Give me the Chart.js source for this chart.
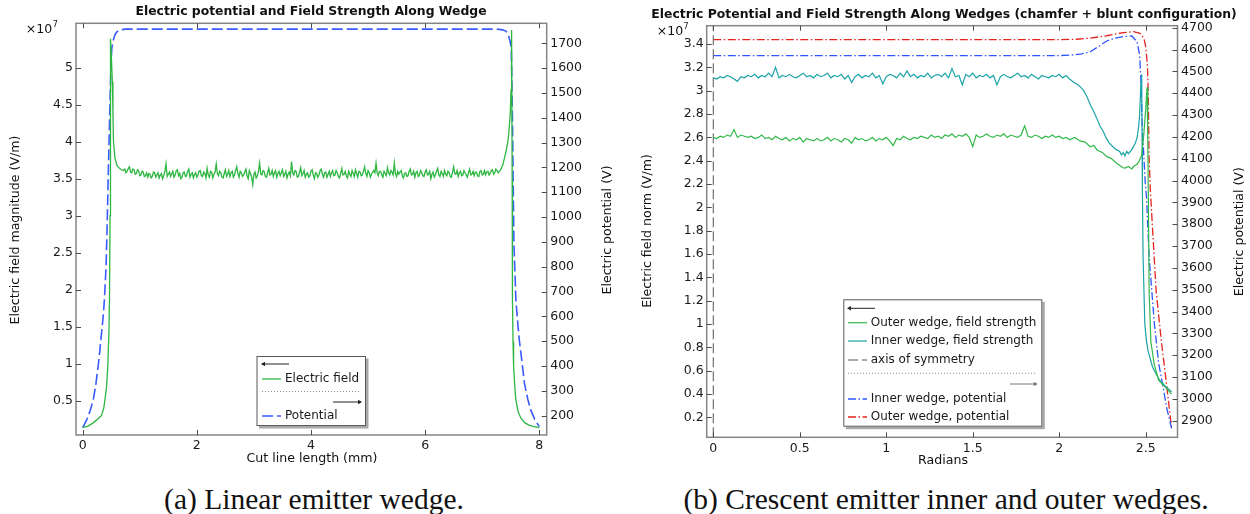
<!DOCTYPE html>
<html>
<head>
<meta charset="utf-8">
<script src="https://cdn.jsdelivr.net/npm/chart.js@4.4.0/dist/chart.umd.min.js"></script>
<style>
html,body{margin:0;padding:0;background:#fff;}
body{width:1250px;height:514px;position:relative;overflow:hidden;}
.panel{position:absolute;top:0;height:475px;}
#pa{left:0;width:620px;}
#pb{left:620px;width:630px;}
.cap{position:absolute;top:484px;line-height:30px;font-family:"Liberation Serif",serif;font-size:29.5px;color:#111;white-space:nowrap;transform:translateX(-50%);}
</style>
</head>
<body>
<div class="panel" id="pa"><canvas id="ca" width="620" height="475"></canvas></div>
<div class="panel" id="pb"><canvas id="cb" width="630" height="475"></canvas></div>
<div class="cap" style="left:314px">(a) Linear emitter wedge.</div>
<div class="cap" style="left:946px">(b) Crescent emitter inner and outer wedges.</div>
<script>
// ===== (a) linear emitter wedge: data =====
const aXTicks = [0,2,4,6,8];
const aFieldTicks = [0.5,1,1.5,2,2.5,3,3.5,4,4.5,5];          // x 10^7 V/m
const aPotTicks = [200,300,400,500,600,700,800,900,1000,1100,1200,1300,1400,1500,1600,1700];

// field magnitude, x 10^7 V/m
const aFieldRiseX = [0,0.1,0.185,0.26,0.33,0.37,0.39,0.42,0.44,0.46,0.47,0.48,0.485,0.49,0.505,0.52,0.53,0.54,0.565,0.6,0.62,0.66,0.71];
const aFieldRiseY = [0.135,0.16,0.2,0.25,0.3,0.4,0.51,0.7,0.97,1.43,1.88,3.0,4.2,5.39,5.1,4.81,4.4,4.0,3.78,3.68,3.66,3.63,3.61];
// noisy plateau, sampled every 0.02 mm from 0.74 mm
const aFieldPlateauX0 = 0.74, aFieldPlateauStep = 0.02;
const aFieldPlateau = [
  3.63,3.58,3.60,3.64,3.66,3.59,3.58,3.63,3.62,3.56,3.57,3.62,3.61,3.54,3.55,3.60,3.59,3.53,3.54,3.58,
  3.52,3.57,3.56,3.51,3.53,3.59,3.58,3.52,3.55,3.58,3.51,3.55,3.57,3.50,3.54,3.60,3.70,3.53,3.56,3.59,
  3.53,3.57,3.60,3.52,3.55,3.61,3.62,3.54,3.57,3.50,3.52,3.58,3.59,3.53,3.54,3.60,3.63,3.52,3.56,3.58,
  3.51,3.56,3.58,3.52,3.55,3.60,3.61,3.54,3.53,3.59,3.57,3.51,3.64,3.55,3.52,3.60,3.59,3.51,3.56,3.59,
  3.70,3.57,3.54,3.60,3.58,3.52,3.51,3.57,3.62,3.53,3.56,3.61,3.53,3.58,3.60,3.52,3.55,3.61,3.66,3.57,
  3.52,3.60,3.58,3.53,3.55,3.59,3.63,3.54,3.50,3.61,3.57,3.52,3.42,3.56,3.59,3.51,3.54,3.60,3.71,3.56,
  3.55,3.61,3.60,3.53,3.52,3.58,3.64,3.55,3.56,3.61,3.53,3.58,3.61,3.52,3.57,3.60,3.54,3.58,3.62,3.53,
  3.56,3.60,3.51,3.56,3.59,3.54,3.73,3.58,3.55,3.61,3.60,3.52,3.53,3.59,3.65,3.54,3.57,3.61,3.52,3.56,
  3.58,3.52,3.54,3.60,3.62,3.55,3.50,3.58,3.57,3.52,3.55,3.61,3.63,3.56,3.52,3.58,3.59,3.52,3.56,3.60,
  3.53,3.58,3.61,3.54,3.55,3.61,3.58,3.53,3.51,3.57,3.64,3.55,3.56,3.60,3.54,3.51,3.60,3.56,3.53,3.61,
  3.57,3.53,3.62,3.57,3.52,3.60,3.59,3.54,3.55,3.60,3.66,3.57,3.53,3.61,3.58,3.52,3.56,3.59,3.61,3.58,
  3.71,3.58,3.54,3.60,3.60,3.55,3.52,3.60,3.57,3.54,3.65,3.58,3.55,3.61,3.59,3.55,3.71,3.57,3.53,3.60,
  3.56,3.59,3.61,3.54,3.51,3.57,3.58,3.53,3.54,3.60,3.63,3.55,3.56,3.60,3.52,3.58,3.60,3.53,3.55,3.61,
  3.58,3.54,3.53,3.59,3.62,3.55,3.56,3.60,3.50,3.56,3.59,3.52,3.55,3.60,3.64,3.55,3.53,3.60,3.57,3.53,
  3.61,3.56,3.54,3.60,3.58,3.53,3.52,3.59,3.66,3.57,3.56,3.61,3.53,3.58,3.60,3.54,3.55,3.61,3.58,3.55,
  3.52,3.58,3.63,3.55,3.56,3.60,3.54,3.59,3.59,3.54,3.53,3.60,3.61,3.55,3.56,3.61,3.55,3.59,3.60,3.55,
  3.57,3.61,3.62,3.56,3.58,3.63,3.61,3.58,3.60
];
const aFieldFallX = [7.32,7.36,7.39,7.42,7.45,7.47,7.49,7.505,7.51,7.52,7.525,7.53,7.54,7.55,7.57,7.59,7.63,7.68,7.75,7.82,7.9,8.0];
const aFieldFallY = [3.62,3.68,3.78,3.88,4.0,4.15,4.36,4.7,5.04,5.51,3.5,1.88,1.3,0.97,0.7,0.51,0.35,0.26,0.2,0.17,0.15,0.135];

// potential, V
const aPotX = [0,0.07,0.13,0.185,0.23,0.27,0.3,0.33,0.36,0.38,0.41,0.43,0.45,0.465,0.48,0.495,0.51,0.54,0.565,0.6,0.65,0.75,
               7.25,7.36,7.42,7.45,7.49,7.51,7.53,7.555,7.59,7.62,7.65,7.7,7.74,7.8,7.85,7.92,8.0];
const aPotY = [152,183,220,263,325,397,460,532,600,666,800,980,1186,1330,1479,1600,1680,1715,1734,1746,1754,1757,
               1757,1754,1748,1740,1707,1680,1400,900,666,580,505,410,330,265,223,185,156];

// ===== (b) crescent emitter: data =====
const bXTicks = [0,0.5,1,1.5,2,2.5];
const bFieldTicks = [0.2,0.4,0.6,0.8,1,1.2,1.4,1.6,1.8,2,2.2,2.4,2.6,2.8,3,3.2,3.4];  // x 10^7 V/m
const bPotTicks = [2900,3000,3100,3200,3300,3400,3500,3600,3700,3800,3900,4000,4100,4200,4300,4400,4500,4600,4700];

// field strength plateaus, sampled every 0.02 rad from 0
const bPlateauX0 = 0, bPlateauStep = 0.02;
const bOuterField = [
  2.60,2.59,2.61,2.60,2.62,2.61,2.667,2.60,2.62,2.61,
  2.60,2.61,2.59,2.60,2.62,2.59,2.60,2.58,2.61,2.59,
  2.58,2.60,2.57,2.59,2.58,2.60,2.56,2.59,2.58,2.57,
  2.59,2.57,2.58,2.60,2.57,2.59,2.58,2.56,2.59,2.58,
  2.55,2.60,2.58,2.59,2.57,2.58,2.60,2.57,2.59,2.58,
  2.60,2.57,2.53,2.59,2.58,2.61,2.59,2.58,2.60,2.59,
  2.61,2.60,2.59,2.62,2.60,2.61,2.59,2.62,2.61,2.63,
  2.60,2.62,2.61,2.63,2.60,2.52,2.62,2.60,2.61,2.63,
  2.61,2.60,2.62,2.61,2.63,2.60,2.62,2.61,2.60,2.62,
  2.70,2.61,2.60,2.62,2.61,2.59,2.61,2.60,2.62,2.60,
  2.61,2.59,2.60,2.58
];
const bOuterTailX = [2.09,2.12,2.15,2.18,2.2,2.22,2.25,2.275,2.3,2.33,2.35,2.37,2.38,2.4,2.42,2.43,2.45,2.46,2.477,2.49,2.5,2.508,2.512,2.516,2.52,2.53,2.55,2.575,2.62,2.65];
const bOuterTailY = [2.60,2.57,2.56,2.52,2.53,2.49,2.47,2.435,2.42,2.38,2.36,2.34,2.337,2.35,2.33,2.35,2.37,2.39,2.447,2.64,2.84,3.03,2.6,2.0,1.28,0.85,0.65,0.52,0.45,0.40];

const bInnerField = [
  3.11,3.10,3.12,3.11,3.13,3.12,3.10,3.08,3.12,3.11,
  3.13,3.12,3.14,3.11,3.13,3.12,3.15,3.12,3.20,3.11,
  3.13,3.12,3.14,3.12,3.11,3.13,3.15,3.12,3.13,3.11,
  3.14,3.12,3.13,3.15,3.11,3.13,3.12,3.14,3.10,3.13,
  3.07,3.12,3.14,3.11,3.13,3.12,3.15,3.11,3.13,3.06,
  3.12,3.14,3.13,3.11,3.15,3.12,3.17,3.12,3.14,3.11,
  3.13,3.12,3.15,3.11,3.13,3.14,3.12,3.15,3.11,3.19,
  3.12,3.13,3.05,3.14,3.12,3.15,3.11,3.13,3.12,3.14,
  3.11,3.13,3.05,3.12,3.14,3.12,3.11,3.13,3.15,3.12,
  3.13,3.11,3.14,3.12,3.10,3.13,3.12,3.11,3.13,3.12,
  3.14,3.11,3.13,3.10
];
const bInnerTailX = [2.08,2.11,2.14,2.16,2.18,2.2,2.217,2.235,2.255,2.27,2.29,2.31,2.33,2.35,2.36,2.37,2.38,2.39,2.40,2.42,2.44,2.45,2.46,2.465,2.473,2.477,2.479,2.481,2.485,2.495,2.505,2.514,2.54,2.58,2.62,2.65];
const bInnerTailY = [3.077,3.05,3.005,2.95,2.88,2.82,2.765,2.70,2.65,2.60,2.55,2.52,2.495,2.48,2.45,2.47,2.44,2.48,2.46,2.495,2.55,2.595,2.70,2.795,3.08,3.14,2.6,2.15,1.58,1.0,0.85,0.77,0.63,0.52,0.46,0.42];

const bSymmetryX = 0;

// potentials, V
const bInnerPotX = [0,2.0,2.08,2.13,2.18,2.23,2.275,2.32,2.37,2.42,2.45,2.465,2.473,2.478,2.487,2.497,2.505,2.52,2.55,2.575,2.604,2.62,2.65];
const bInnerPotY = [4572,4572,4575,4580,4590,4615,4639,4652,4659,4662,4636,4575,4453,4300,4147,3995,3920,3651,3346,3163,3040,2964,2865];
const bOuterPotX = [0,2.0,2.1,2.18,2.275,2.37,2.43,2.467,2.49,2.5,2.51,2.515,2.52,2.527,2.56,2.59,2.62,2.65];
const bOuterPotY = [4645,4645,4647,4652,4663,4677,4682,4674,4651,4613,4529,4400,4100,3957,3498,3269,3071,2865];

// ===== helpers =====
const pts = (xs, ys) => xs.map((x, i) => ({x: x, y: ys[i]}));
const sampled = (x0, step, ys) => ys.map((y, i) => ({x: +(x0 + i * step).toFixed(4), y: y}));

Chart.defaults.font.family = '"DejaVu Sans", sans-serif';
Chart.defaults.font.size = 12.5;
Chart.defaults.color = '#1a1a1a';

function arrow(ctx, x1, x2, y, color){
  ctx.strokeStyle = color; ctx.fillStyle = color; ctx.lineWidth = 1; ctx.setLineDash([]);
  ctx.beginPath(); ctx.moveTo(x1, y); ctx.lineTo(x2, y); ctx.stroke();
  const d = x2 > x1 ? 1 : -1;
  ctx.beginPath(); ctx.moveTo(x2 + d, y); ctx.lineTo(x2 - 3 * d, y - 2.2); ctx.lineTo(x2 - 3 * d, y + 2.2); ctx.closePath(); ctx.fill();
}

// === рамка, внутренние засечки, подписи, легенда ===
const decor = {
  id: 'decor',
  afterDatasetsDraw(chart, args, o){
    const ctx = chart.ctx, a = chart.chartArea;
    ctx.save();
    // legend box
    const L = o.legend;
    ctx.fillStyle = '#a8a8a8'; ctx.fillRect(L.x + 2.5, L.y + 2.5, L.w, L.h);
    ctx.fillStyle = '#fff'; ctx.fillRect(L.x, L.y, L.w, L.h);
    ctx.strokeStyle = '#5a5a5a'; ctx.lineWidth = 1; ctx.strokeRect(L.x + 0.5, L.y + 0.5, L.w - 1, L.h - 1);
    ctx.font = '12px "DejaVu Sans"'; ctx.textBaseline = 'middle'; ctx.textAlign = 'left';
    L.rows.forEach(r => {
      if (r.kind === 'arrowL') arrow(ctx, r.x2, r.x1, r.y, r.color || '#222');
      else if (r.kind === 'arrowR') arrow(ctx, r.x1, r.x2, r.y, r.color || '#222');
      else if (r.kind === 'dots'){
        ctx.strokeStyle = '#8a8a8a'; ctx.lineWidth = 1; ctx.setLineDash([1, 2]);
        ctx.beginPath(); ctx.moveTo(r.x1, r.y); ctx.lineTo(r.x2, r.y); ctx.stroke(); ctx.setLineDash([]);
      } else {
        const ds = chart.data.datasets[r.ds];
        ctx.strokeStyle = ds.borderColor; ctx.lineWidth = ds.borderWidth; ctx.setLineDash(ds.borderDash || []);
        ctx.beginPath(); ctx.moveTo(r.x1, r.y); ctx.lineTo(r.x2, r.y); ctx.stroke(); ctx.setLineDash([]);
        ctx.fillStyle = '#1a1a1a'; ctx.fillText(ds.label, r.tx, r.y);
      }
    });
    // frame
    ctx.strokeStyle = '#858585'; ctx.lineWidth = 1.5;
    ctx.strokeRect(a.left, a.top, a.right - a.left, a.bottom - a.top);
    // inward ticks
    ctx.strokeStyle = '#4a4a4a'; ctx.lineWidth = 1;
    const seg = (x1, y1, x2, y2) => { ctx.beginPath(); ctx.moveTo(x1, y1); ctx.lineTo(x2, y2); ctx.stroke(); };
    const sx = chart.scales.x, sl = chart.scales.yL, sr = chart.scales.yR;
    sx.ticks.forEach(t => { const p = Math.round(sx.getPixelForValue(t.value)) + 0.5; seg(p, a.bottom, p, a.bottom - 5); seg(p, a.top, p, a.top + 5); });
    sl.ticks.forEach(t => { const p = Math.round(sl.getPixelForValue(t.value)) + 0.5; seg(a.left, p, a.left + 5, p); });
    sr.ticks.forEach(t => { const p = Math.round(sr.getPixelForValue(t.value)) + 0.5; seg(a.right, p, a.right - 5, p); });
    // texts
    ctx.fillStyle = '#111'; ctx.textAlign = 'center'; ctx.textBaseline = 'middle';
    ctx.font = 'bold 12.4px "DejaVu Sans"';
    ctx.fillText(o.title, o.titleX, o.titleY);
    ctx.font = '12.6px "DejaVu Sans"';
    ctx.fillText(o.xTitle, o.xTitleX, o.xTitleY);
    [[o.yLTitle, o.yLTitleX, o.yLTitleY], [o.yRTitle, o.yRTitleX, o.yRTitleY]].forEach(t => {
      ctx.save(); ctx.translate(t[1], t[2]); ctx.rotate(-Math.PI / 2); ctx.fillText(t[0], 0, 0); ctx.restore();
    });
    // x10^7
    ctx.textAlign = 'left';
    ctx.font = '12.5px "DejaVu Sans"';
    ctx.fillText('\u00d710', o.expX, o.expY);
    const w = ctx.measureText('\u00d710').width;
    ctx.font = '8px "DejaVu Sans"';
    ctx.fillText('7', o.expX + w + 0.5, o.expY - 5);
    ctx.restore();
  }
};

function makeChart(id, s){
  const fitW = w => sc => { sc.width = w; };
  const tickSet = vals => sc => { sc.ticks = vals.map(v => ({value: v})); };
  const axis = (pos, min, max, vals, pad, fit) => ({
    type: 'linear', position: pos, min: min, max: max,
    grid: {display: false, drawTicks: false}, border: {display: false},
    ticks: {padding: pad, autoSkip: false, maxRotation: 0, color: '#1a1a1a', font: {size: 12.5}, callback: v => String(v)},
    afterBuildTicks: tickSet(vals), afterFit: fit
  });
  return new Chart(document.getElementById(id), {
    type: 'line',
    data: {datasets: s.datasets},
    options: {
      responsive: false, animation: false, devicePixelRatio: 1,
      layout: {padding: {top: s.box.top, left: 0, right: 0, bottom: 0}},
      elements: {point: {radius: 0}, line: {tension: 0, fill: false}},
      plugins: {legend: {display: false}, tooltip: {enabled: false}, title: {display: false}, decor: s.decor},
      scales: {
        x: axis('bottom', s.x[0], s.x[1], s.xTicks, 3.5, sc => { sc.height = s.box.xh; }),
        yL: axis('left', s.yL[0], s.yL[1], s.yLTicks, 3, fitW(s.box.lw)),
        yR: axis('right', s.yR[0], s.yR[1], s.yRTicks, 3.5, fitW(s.box.rw))
      }
    },
    plugins: [decor]
  });
}

// ===== chart (a) =====
makeChart('ca', {
  box: {top: 23.3, xh: 40, lw: 76, rw: 73.3},
  x: [-0.117, 8.13], yL: [0.036, 5.6], yR: [122, 1780.5],
  xTicks: aXTicks, yLTicks: aFieldTicks, yRTicks: aPotTicks,
  datasets: [
    {label: 'Electric field', yAxisID: 'yL', borderColor: '#2db640', borderWidth: 1.3,
     data: [...pts(aFieldRiseX, aFieldRiseY), ...sampled(aFieldPlateauX0, aFieldPlateauStep, aFieldPlateau), ...pts(aFieldFallX, aFieldFallY)]},
    {label: 'Potential', yAxisID: 'yR', borderColor: '#3a5cff', borderWidth: 1.6, borderDash: [11, 4],
     data: pts(aPotX, aPotY)}
  ],
  decor: {
    title: 'Electric potential and Field Strength Along Wedge', titleX: 311, titleY: 11.5,
    xTitle: 'Cut line length (mm)', xTitleX: 312, xTitleY: 458.3,
    yLTitle: 'Electric field magnitude (V/m)', yLTitleX: 16, yLTitleY: 230,
    yRTitle: 'Electric potential (V)', yRTitleX: 608, yRTitleY: 230,
    expX: 25.8, expY: 30,
    legend: {x: 256.5, y: 356, w: 109.5, h: 70, rows: [
      {kind: 'arrowL', x1: 262, x2: 289, y: 364},
      {kind: 'item', ds: 0, x1: 262, x2: 281, tx: 285, y: 379},
      {kind: 'dots', x1: 262, x2: 360, y: 391.5},
      {kind: 'arrowR', x1: 333, x2: 361, y: 402},
      {kind: 'item', ds: 1, x1: 262, x2: 281, tx: 285, y: 416}
    ]}
  }
});

// ===== chart (b) =====
const bYL = [0.03, 3.557];
makeChart('cb', {
  box: {top: 25.7, xh: 37.7, lw: 86.7, rw: 72.5},
  x: [-0.038, 2.684], yL: bYL, yR: [2824, 4709],
  xTicks: bXTicks, yLTicks: bFieldTicks, yRTicks: bPotTicks,
  datasets: [
    {label: 'Outer wedge, field strength', yAxisID: 'yL', borderColor: '#33b84a', borderWidth: 1.2,
     data: [...sampled(bPlateauX0, bPlateauStep, bOuterField), ...pts(bOuterTailX, bOuterTailY)]},
    {label: 'Inner wedge, field strength', yAxisID: 'yL', borderColor: '#1ba3a6', borderWidth: 1.2,
     data: [...sampled(bPlateauX0, bPlateauStep, bInnerField), ...pts(bInnerTailX, bInnerTailY)]},
    {label: 'axis of symmetry', yAxisID: 'yL', borderColor: '#555', borderWidth: 1, borderDash: [10, 4],
     data: [{x: bSymmetryX, y: bYL[0]}, {x: bSymmetryX, y: bYL[1]}]},
    {label: 'Inner wedge, potential', yAxisID: 'yR', borderColor: '#2f55ff', borderWidth: 1.3, borderDash: [8, 2.5, 1.5, 2.5],
     data: pts(bInnerPotX, bInnerPotY)},
    {label: 'Outer wedge, potential', yAxisID: 'yR', borderColor: '#e4241e', borderWidth: 1.3, borderDash: [8, 2.5, 1.5, 2.5],
     data: pts(bOuterPotX, bOuterPotY)}
  ],
  decor: {
    title: 'Electric Potential and Field Strength Along Wedges (chamfer + blunt configuration)', titleX: 324, titleY: 14.7,
    xTitle: 'Radians', xTitleX: 323, xTitleY: 460.7,
    yLTitle: 'Electric field norm (V/m)', yLTitleX: 27.5, yLTitleY: 231,
    yRTitle: 'Electric potential (V)', yRTitleX: 620, yRTitleY: 231.7,
    expX: 36.7, expY: 32,
    legend: {x: 223.3, y: 299.3, w: 199, h: 127.4, rows: [
      {kind: 'arrowL', x1: 228, x2: 255, y: 308.3},
      {kind: 'item', ds: 0, x1: 228, x2: 247, tx: 250.7, y: 322.7},
      {kind: 'item', ds: 1, x1: 228, x2: 247, tx: 250.7, y: 341},
      {kind: 'item', ds: 2, x1: 228, x2: 247, tx: 250.7, y: 360},
      {kind: 'dots', x1: 228, x2: 416, y: 373.3},
      {kind: 'arrowR', x1: 390, x2: 416.7, y: 384, color: '#777'},
      {kind: 'item', ds: 3, x1: 228, x2: 247, tx: 250.7, y: 399},
      {kind: 'item', ds: 4, x1: 228, x2: 247, tx: 250.7, y: 417}
    ]}
  }
});
</script>
</body>
</html>
